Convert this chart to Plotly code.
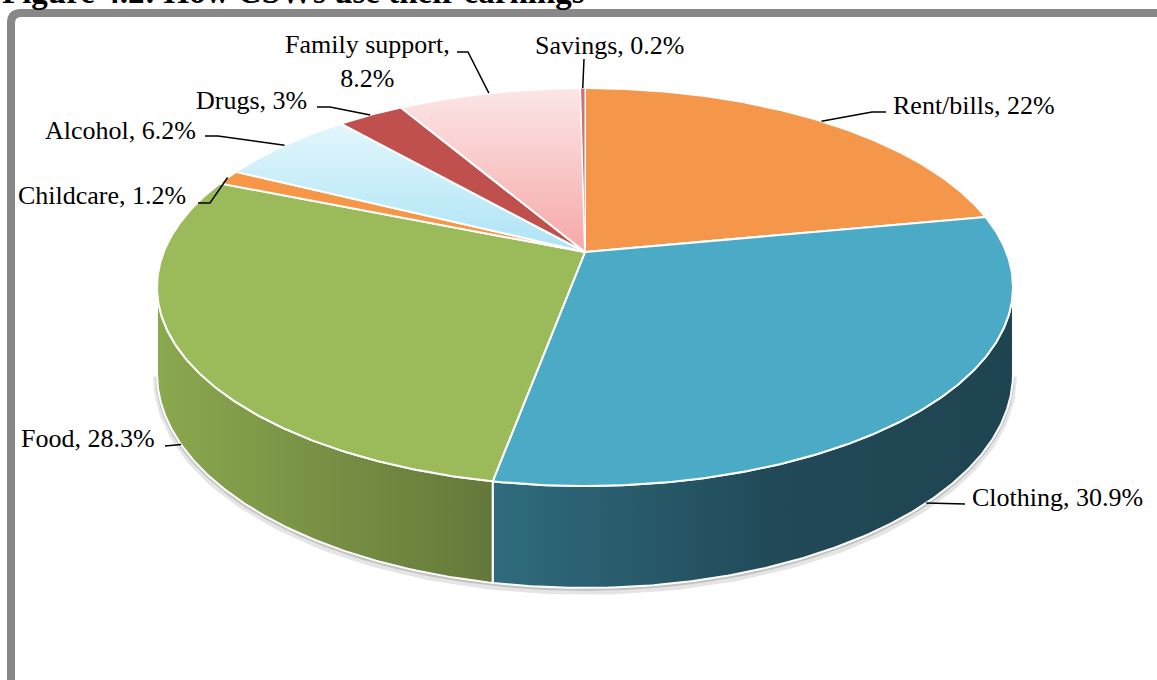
import numpy as np
import plotly.graph_objects as go

# ---------------- data ----------------
categories = ["Rent/bills", "Clothing", "Food", "Childcare", "Alcohol", "Drugs", "Family support", "Savings"]
values = [22, 30.9, 28.3, 1.2, 6.2, 3, 8.2, 0.2]
value_labels = ["22%", "30.9%", "28.3%", "1.2%", "6.2%", "3%", "8.2%", "0.2%"]
title_text = "Figure 4.2: How CSWs use their earnings"

# ---------------- styles ----------------
top_fill = {
    "Rent/bills": ("solid", "#F4974A"),
    "Clothing": ("solid", "#4BAAC5"),
    "Food": ("solid", "#9BBA59"),
    "Childcare": ("solid", "#F79646"),
    "Alcohol": ("vertical", ["#E3F6FC", "#ACE4F6"]),
    "Drugs": ("solid", "#C0504D"),
    "Family support": ("vertical", ["#FCE6E6", "#F6A8A8"]),
    "Savings": ("solid", "#D07272"),
}
side_scale = {
    "Clothing": [[0, "#2F6C7E"], [0.55, "#214957"], [1, "#1F4451"]],
    "Food": [[0, "#8AA84E"], [1, "#64783A"]],
    "Rent/bills": [[0, "#B86E30"], [1, "#A05E28"]],
}
# label layout: (text x, text y, xanchor, elbow points list)
label_layout = {
    "Rent/bills": (891, 105, "left", [(872, 112), (886, 112)]),
    "Clothing": (970, 497, "left", [(965, 504)]),
    "Food": (157, 438, "right", [(165, 446)]),
    "Childcare": (188, 195, "right", [(210, 203), (198, 203)]),
    "Alcohol": (198, 130, "right", [(218, 136), (205, 136)]),
    "Drugs": (309, 100, "right", [(330, 107), (317, 107)]),
    "Family support": (367, 61, "center", [(468, 52), (457, 52)]),
    "Savings": (610, 45, "center", [(584, 59)]),
}
FONT = "Liberation Serif, Times New Roman, serif"
FS = 26

# ---------------- 3D pie projection ----------------
CX, CY = 585.0, 252.0
A, B, D, H = 2393.0, 1095.0, 5.68, 84.0


def proj(phi):
    u = np.sin(phi)
    v = -np.cos(phi)
    x = CX + A * u / (D - v)
    y = CY + B * v / (D - v)
    return x, y, v


def thick(v):
    return H * D / (D - v)


def arc(a0, a1):
    n = max(3, int(np.degrees(a1 - a0) * 2))
    return np.linspace(a0, a1, n)


vals = np.array(values, dtype=float)
fr = vals / vals.sum()
ends = np.cumsum(fr) * 2 * np.pi
starts = ends - fr * 2 * np.pi

phiR = np.arccos(-1.0 / D)
phiL = 2 * np.pi - phiR

fig = go.Figure()

# shadow under the side wall
ph = arc(phiR, phiL)
sx, sy, sv = proj(ph)
fig.add_trace(go.Scatter(x=sx, y=sy + thick(sv) + 3, mode="lines",
                         line=dict(color="rgba(0,0,0,0.10)", width=8), hoverinfo="skip"))
fig.add_trace(go.Scatter(x=sx, y=sy + thick(sv) + 1.5, mode="lines",
                         line=dict(color="rgba(0,0,0,0.15)", width=3), hoverinfo="skip"))

# side walls
for cat, a0, a1 in zip(categories, starts, ends):
    lo, hi = max(a0, phiR), min(a1, phiL)
    if hi <= lo:
        continue
    ph = arc(lo, hi)
    x, y, v = proj(ph)
    yb = y + thick(v)
    px = np.concatenate([x, x[::-1], x[:1]])
    py = np.concatenate([y, yb[::-1], y[:1]])
    fig.add_trace(go.Scatter(
        x=px, y=py, mode="lines", fill="toself",
        fillgradient=dict(type="horizontal", colorscale=side_scale.get(cat, [[0, "#888"], [1, "#666"]])),
        line=dict(color="white", width=2), hoverinfo="skip"))

# top faces
for cat, a0, a1 in zip(categories, starts, ends):
    ph = arc(a0, a1)
    x, y, v = proj(ph)
    px = np.concatenate([[CX], x, [CX]])
    py = np.concatenate([[CY], y, [CY]])
    kind, col = top_fill[cat]
    kw = {}
    if kind == "solid":
        kw["fillcolor"] = col
    else:
        kw["fillgradient"] = dict(type="vertical", colorscale=[[0, col[0]], [1, col[1]]],
                                  start=float(py.min()), stop=float(py.max()))
    lw = 2 if cat != "Savings" else 1
    fig.add_trace(go.Scatter(x=px, y=py, mode="lines", fill="toself",
                             line=dict(color="white", width=lw), hoverinfo="skip", **kw))

# leader lines and labels
annotations = []
for cat, lab, a0, a1 in zip(categories, value_labels, starts, ends):
    mid = (a0 + a1) / 2
    ax_, ay_, av = proj(mid)
    if phiR <= mid <= phiL:
        ay_ = ay_ + thick(av)
    tx, ty, xa, elbows = label_layout[cat]
    lx = [ax_] + [p[0] for p in elbows]
    ly = [ay_] + [p[1] for p in elbows]
    fig.add_trace(go.Scatter(x=lx, y=ly, mode="lines", line=dict(color="black", width=1.5),
                             hoverinfo="skip"))
    text = f"{cat}, {lab}" if cat != "Family support" else f"{cat},<br>{lab}"
    annotations.append(dict(x=tx, y=ty, xref="x", yref="y", text=text, showarrow=False,
                            xanchor=xa, yanchor="middle", align="center",
                            font=dict(family=FONT, size=FS, color="black")))

annotations.append(dict(x=0, y=1 + 8 / 680, xref="paper", yref="paper", text=f"<b>{title_text}</b>",
                        showarrow=False, xanchor="left", yanchor="middle",
                        font=dict(family=FONT, size=33, color="black")))

frame_path = "M 11,700 L 11,23 Q 11,13 21,13 L 1170,13"

fig.update_layout(
    width=1157, height=680,
    margin=dict(l=0, r=0, t=0, b=0),
    paper_bgcolor="white", plot_bgcolor="white",
    showlegend=False,
    xaxis=dict(range=[0, 1157], visible=False, fixedrange=True),
    yaxis=dict(range=[680, 0], visible=False, fixedrange=True),
    annotations=annotations,
    shapes=[dict(type="path", path=frame_path, xref="x", yref="y",
                 line=dict(color="#888888", width=8), layer="above")],
)

fig.write_html("out.html")
